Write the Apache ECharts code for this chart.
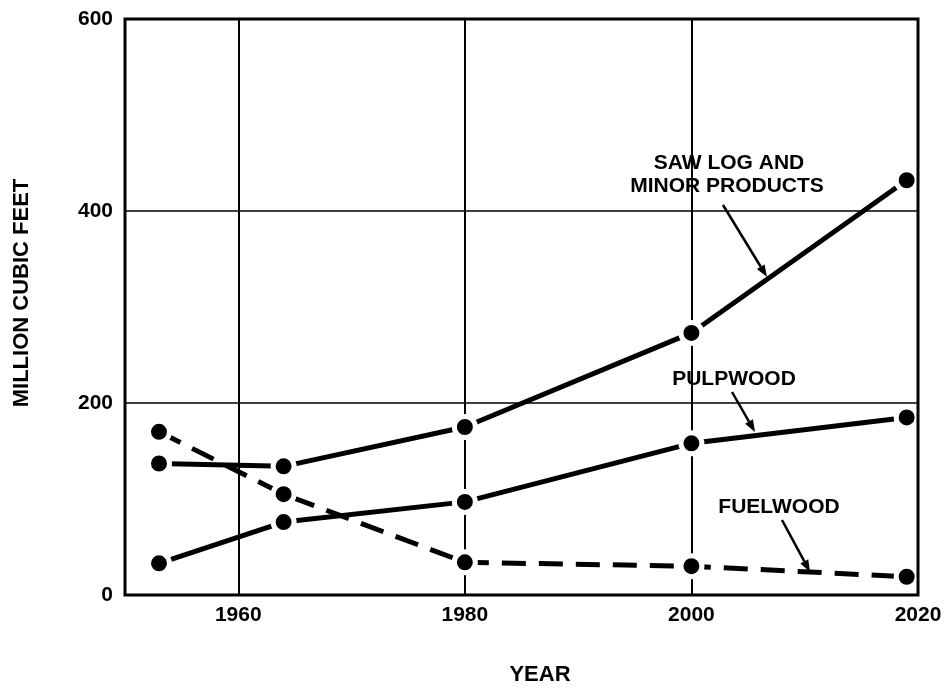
<!DOCTYPE html>
<html>
<head>
<meta charset="utf-8">
<title>Timber removals by product</title>
<script src="https://cdn.jsdelivr.net/npm/echarts@6/dist/echarts.min.js"></script>
<style>
  html, body { margin: 0; padding: 0; background: #fff; }
  #chart { width: 950px; height: 688px; }
</style>
</head>
<body>
<div id="chart"></div>
<script>
// Years of the plotted observations / projections
const years = [1953, 1964, 1980, 2000, 2019];

// Million cubic feet, by product
const sawLog   = [137, 134, 175, 273, 432];
const pulpwood = [33, 76, 97, 158, 185];
const fuelwood = [170, 105, 34, 30, 19];

// Axis tick labels and reference lines
const xTickLabels = [1960, 1980, 2000, 2020];
const gridYears = [1960, 1980, 2000];
const gridValues = [200, 400];

const FONT = "'Liberation Sans', Arial, Helvetica, sans-serif";
const INK = '#000';

function pairs(xs, ys) {
  return xs.map((x, i) => [x, ys[i]]);
}

// Each curve: thick black line, round dots with a white halo so the
// line appears to stop just short of every dot.
function lineSeries(name, values, dashed) {
  return {
    name: name,
    type: 'line',
    data: pairs(years, values),
    symbol: 'circle',
    symbolSize: 21,
    showSymbol: true,
    z: 5,
    lineStyle: {
      color: INK,
      width: 5,
      type: dashed ? [24, 13] : 'solid'
    },
    itemStyle: { color: INK, borderColor: '#fff', borderWidth: 5 },
    emphasis: { disabled: true },
    animation: false
  };
}

// Arrow (shaft + filled head) used by the series callouts
function arrow(x1, y1, x2, y2) {
  const ang = Math.atan2(y2 - y1, x2 - x1);
  const len = 12, half = 4.5;
  const bx = x2 - len * Math.cos(ang), by = y2 - len * Math.sin(ang);
  const px = -Math.sin(ang) * half, py = Math.cos(ang) * half;
  return {
    type: 'group',
    silent: true,
    children: [
      { type: 'line', shape: { x1: x1, y1: y1, x2: bx, y2: by },
        style: { stroke: INK, lineWidth: 2.5 } },
      { type: 'polygon', shape: { points: [[x2, y2], [bx + px, by + py], [bx - px, by - py]] },
        style: { fill: INK } }
    ]
  };
}

function label(text, x, y) {
  return {
    type: 'text', x: x, y: y, silent: true,
    style: { text: text, fill: INK, font: 'bold 21px ' + FONT, align: 'center', verticalAlign: 'middle' }
  };
}

const chart = echarts.init(document.getElementById('chart'), null, { renderer: 'canvas' });

chart.setOption({
  backgroundColor: '#fff',
  animation: false,
  grid: {
    left: 125, right: 32, top: 19, bottom: 93,
    show: true, borderColor: INK, borderWidth: 3, backgroundColor: 'transparent', z: 10
  },
  xAxis: {
    type: 'value',
    min: 1950, max: 2020, interval: 10,
    axisLine: { show: false },
    axisTick: { show: false },
    splitLine: { show: false },
    axisLabel: {
      color: INK, fontFamily: FONT, fontWeight: 'bold', fontSize: 21, margin: 10,
      showMinLabel: true, showMaxLabel: true,
      formatter: v => (xTickLabels.indexOf(v) >= 0 ? String(v) : '')
    }
  },
  yAxis: {
    type: 'value',
    min: 0, max: 600, interval: 200,
    axisLine: { show: false },
    axisTick: { show: false },
    splitLine: { show: false },
    axisLabel: { color: INK, fontFamily: FONT, fontWeight: 'bold', fontSize: 21, margin: 12 }
  },
  series: [
    {
      name: 'grid',
      type: 'line',
      data: [],
      z: 1,
      silent: true,
      markLine: {
        silent: true,
        symbol: 'none',
        animation: false,
        label: { show: false },
        lineStyle: { color: INK, type: 'solid', width: 2 },
        emphasis: { disabled: true },
        data: gridYears.map(y => ({ xAxis: y }))
          .concat(gridValues.map(v => ({ yAxis: v, lineStyle: { width: 1.6 } })))
      }
    },
    lineSeries('SAW LOG AND MINOR PRODUCTS', sawLog, false),
    lineSeries('PULPWOOD', pulpwood, false),
    lineSeries('FUELWOOD', fuelwood, true)
  ],
  graphic: [
    label('SAW LOG AND', 729, 163),
    label('MINOR PRODUCTS', 727, 186),
    arrow(723, 205, 767, 277),
    label('PULPWOOD', 734, 379),
    arrow(732, 392, 755, 432),
    label('FUELWOOD', 779, 507),
    arrow(782, 520, 810, 572),
    {
      type: 'text', x: 540, y: 675, silent: true,
      style: { text: 'YEAR', fill: INK, font: 'bold 22px ' + FONT, align: 'center', verticalAlign: 'middle' }
    },
    {
      type: 'text', x: 22, y: 293, rotation: Math.PI / 2, silent: true,
      style: { text: 'MILLION CUBIC FEET', fill: INK, font: 'bold 22px ' + FONT, align: 'center', verticalAlign: 'middle' }
    }
  ]
});
</script>
</body>
</html>
